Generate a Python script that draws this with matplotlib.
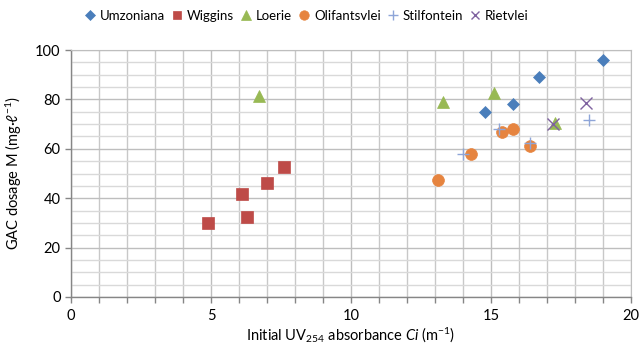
import numpy as np
import matplotlib
matplotlib.use('Agg')
import matplotlib.pyplot as plt
from matplotlib.ticker import MultipleLocator

plt.rcParams['font.family'] = ['Lato', 'DejaVu Sans']
plt.rcParams['mathtext.fontset'] = 'custom'
plt.rcParams['mathtext.rm'] = 'Lato'
plt.rcParams['mathtext.it'] = 'Lato:italic'

# data
umzoniana_x = [19.0, 16.7, 15.8, 14.8]
umzoniana_y = [96, 89, 78, 75]
wiggins_x = [4.9, 6.1, 6.3, 7.0, 7.6]
wiggins_y = [30, 41.5, 32.5, 46, 52.5]
loerie_x = [6.7, 13.3, 15.1, 17.3]
loerie_y = [81.5, 79, 82.5, 70.5]
olifants_x = [13.1, 14.3, 15.4, 15.8, 16.4]
olifants_y = [47.5, 58, 67, 68, 61]
stilfontein_x = [14.0, 15.3, 16.4, 18.5]
stilfontein_y = [58, 68, 62.5, 71.5]
rietvlei_x = [18.4, 17.2]
rietvlei_y = [78.5, 70]

series = [
    ('Umzoniana', umzoniana_x, umzoniana_y, 'D', '#4A7EBB', 6.5),
    ('Wiggins', wiggins_x, wiggins_y, 's', '#BE4B48', 8),
    ('Loerie', loerie_x, loerie_y, '^', '#98B954', 8.5),
    ('Olifantsvlei', olifants_x, olifants_y, 'o', '#E6843F', 8.5),
    ('Stilfontein', stilfontein_x, stilfontein_y, '+', '#8EA5D8', 9),
    ('Rietvlei', rietvlei_x, rietvlei_y, 'x', '#7F62A0', 8),
]

fig = plt.figure(figsize=(6.42, 3.47), dpi=100)
ax = fig.add_axes([71/642, 1 - 297/347, 560/642, 247/347])

for name, xs, ys, mk, col, ms in series:
    if mk in ('+', 'x'):
        ax.plot(xs, ys, linestyle='none', marker=mk, color=col, markersize=ms,
                markeredgewidth=1.0, label=name, zorder=3)
    else:
        ax.plot(xs, ys, linestyle='none', marker=mk, color=col, markersize=ms,
                markeredgecolor=col, markeredgewidth=0.5, label=name, zorder=3)

ax.set_xlim(0, 20)
ax.set_ylim(0, 100)
ax.xaxis.set_major_locator(MultipleLocator(5))
ax.xaxis.set_minor_locator(MultipleLocator(1))
ax.yaxis.set_major_locator(MultipleLocator(20))
ax.yaxis.set_minor_locator(MultipleLocator(5))

ax.grid(which='major', color='#BEBEBE', linewidth=1.0, zorder=0)
ax.grid(which='minor', color='#D9D9D9', linewidth=1.0, zorder=0)
ax.grid(which='minor', axis='x', color='#C8C8C8', linewidth=1.0)
ax.set_axisbelow(True)

for s in ['top', 'right']:
    ax.spines[s].set_color('#BEBEBE')
for s in ['left', 'bottom']:
    ax.spines[s].set_color('#868686')
    ax.spines[s].set_linewidth(1.0)

ax.tick_params(axis='both', which='major', labelsize=10.5, colors='#868686',
               labelcolor='black', length=4, width=1)
ax.tick_params(axis='x', which='minor', length=4, width=1, colors='#868686')
ax.tick_params(axis='y', which='minor', length=0)
ax.tick_params(axis='x', pad=5)

ax.set_xlabel(r'Initial UV$_{\mathregular{254}}$ absorbance $\mathit{Ci}$ (m$^{\mathregular{-1}}$)',
              fontsize=10.5, labelpad=2)
ax.set_ylabel(r'GAC dosage M (mg·$\ell^{\mathregular{-1}}$)', fontsize=10.5, labelpad=8)

fig.legend(loc='center', bbox_to_anchor=(307/642, 1 - 16/347), ncol=6, frameon=False,
           fontsize=9.5, handlelength=0.7, handletextpad=0.4, columnspacing=0.55,
           markerscale=0.8, borderaxespad=0)

fig.savefig('out.png', dpi=100)
